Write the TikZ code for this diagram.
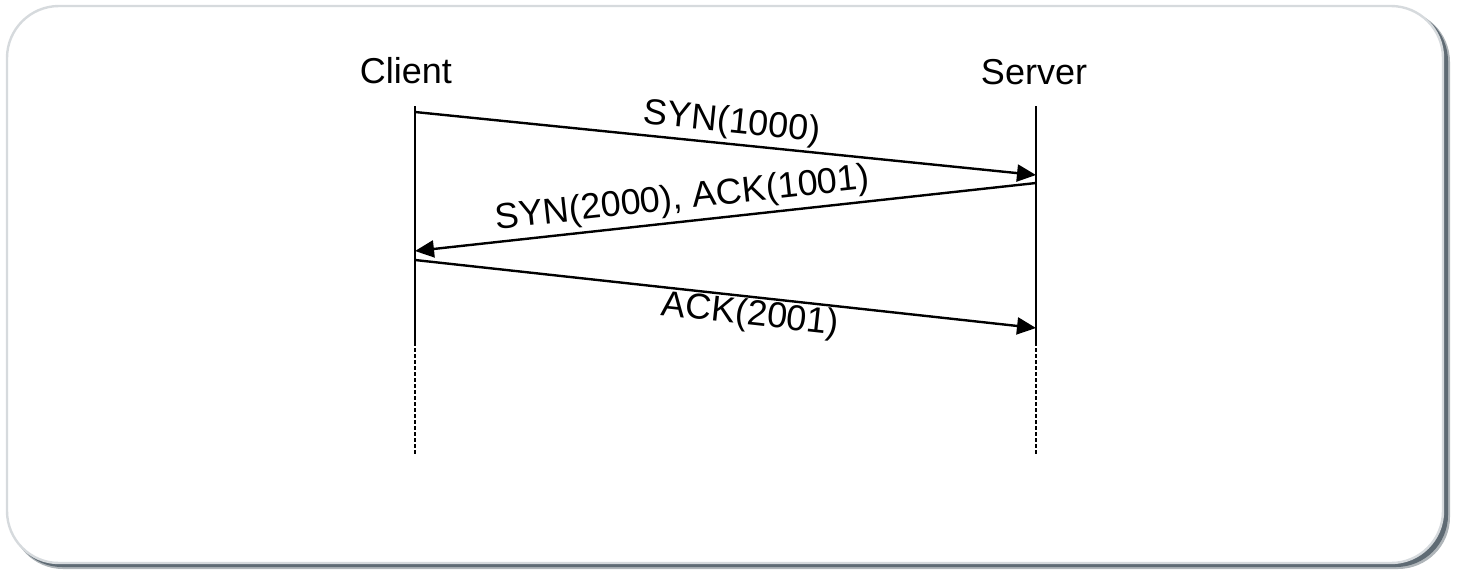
\documentclass[tikz,border=0pt]{standalone}
\usepackage{fontspec}
\setmainfont{Liberation Sans}
\usetikzlibrary{arrows.meta}
\definecolor{frameline}{HTML}{D6DADD}
\definecolor{shadowcol}{HTML}{5F6B74}
\tikzset{
  title/.style={font=\fontsize{18}{20}\selectfont, anchor=base, inner sep=0pt},
  msg/.style={line width=1.2pt, -{Triangle[length=9.5pt,width=8.5pt]}},
  msgback/.style={line width=1.2pt, {Triangle[length=9.5pt,width=8.5pt]}-},
  lbl/.style={font=\fontsize{18}{20}\selectfont, sloped},
  lifeline/.style={line width=1.2pt},
  lifedash/.style={line width=1.2pt, dash pattern=on 2pt off 1pt}
}
\begin{document}
\begin{tikzpicture}[x=0.5pt,y=-0.5pt]
\useasboundingbox (0,0) rectangle (1457,569);
% frame with shadow
\fill[shadowcol!50] (11,10) [rounded corners=26] rectangle (1450,569);
\fill[shadowcol] (10,9) [rounded corners=26] rectangle (1448,567);
\filldraw[fill=white, draw=frameline, line width=1.2pt] (7,6) [rounded corners=26] rectangle (1443,563);
% titles
\node[title] (cl) at (406,83) {Client};
\node[title] (sv) at (1034,84) {Server};
% lifelines
\coordinate (ctop) at (415,106);
\coordinate (cmid) at (415,342);
\coordinate (cbot) at (415,454);
\coordinate (stop) at (1036,106);
\coordinate (smid) at (1036,342);
\coordinate (sbot) at (1036,454);
\draw[lifeline] (ctop) -- (cmid);
\draw[lifedash] (cmid) -- (cbot);
\draw[lifeline] (stop) -- (smid);
\draw[lifedash] (smid) -- (sbot);
% message points
\coordinate (c1) at (415,112);
\coordinate (s1) at (1036,175);
\coordinate (s2) at (1036,183);
\coordinate (c2) at (415,251);
\coordinate (c3) at (415,260);
\coordinate (s3) at (1036,328);
\draw[msg] (c1) -- node[lbl, pos=0.507, anchor=south, inner sep=1.5pt] {SYN(1000)} (s1);
\draw[msgback] (c2) -- node[lbl, pos=0.435, anchor=south, inner sep=2pt] {SYN(2000), ACK(1001)} (s2);
\draw[msg] (c3) -- node[lbl, pos=0.543, anchor=north, inner sep=0.5pt] {ACK(2001)} (s3);
\end{tikzpicture}
\end{document}
